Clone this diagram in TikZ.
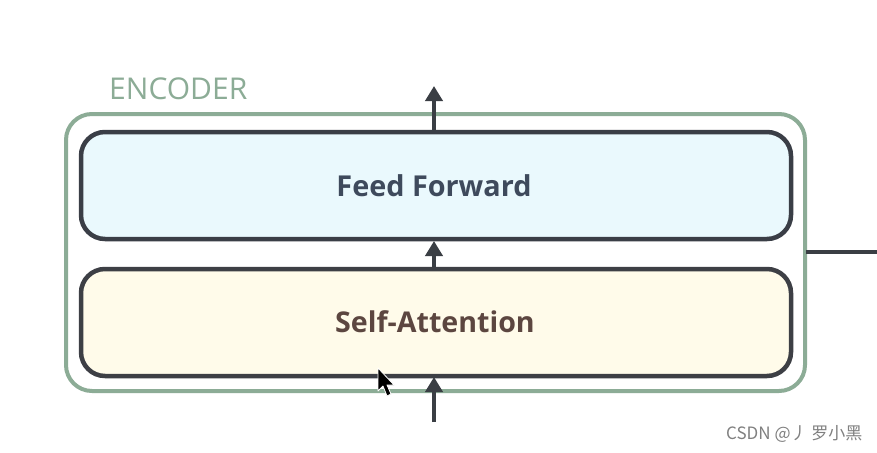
\documentclass[tikz,border=0pt]{standalone}
\usepackage{fontspec}
\setmainfont{Open Sans}
\newfontfamily\cjk{Noto Sans CJK SC}
\usetikzlibrary{arrows.meta}
\definecolor{encgreen}{RGB}{140,172,150}
\definecolor{boxline}{RGB}{58,62,70}
\definecolor{ffill}{RGB}{234,249,253}
\definecolor{safill}{RGB}{255,251,234}
\definecolor{fftext}{RGB}{62,74,92}
\definecolor{satext}{RGB}{92,70,64}
\definecolor{arrowc}{RGB}{58,62,68}
\tikzset{
  layerbox/.style={draw=boxline, line width=4.5pt, rounded corners=24pt},
  flowarrow/.style={draw=arrowc, line width=4pt, -{Triangle[length=15pt,width=17pt]}},
}
\begin{document}
\begin{tikzpicture}[x=1pt,y=-1pt]
\useasboundingbox[fill=white] (0,0) rectangle (877,452);
% encoder outer box
\draw[draw=encgreen, line width=4pt, rounded corners=26pt] (66,114) rectangle (805,391);
\node[anchor=west, text=encgreen, font=\fontsize{30}{32}\selectfont, inner sep=0pt] (enc) at (109,89) {ENCODER};
% layers
\draw[layerbox, fill=ffill] (81,132) rectangle (791,239);
\draw[layerbox, draw=boxline!90!satext, fill=safill] (81,269) rectangle (791,376);
\node[text=fftext, font=\fontsize{28.8}{30}\selectfont\bfseries] (ff) at (434,186) {Feed Forward};
\node[text=satext, font=\fontsize{28.6}{30}\selectfont\bfseries] (sa) at (435,322) {Self-Attention};
\coordinate (fftop) at (434,130);
\coordinate (ffbot) at (434,241);
\coordinate (satop) at (434,267);
\coordinate (out) at (434,86);
\coordinate (in) at (434,422);
\coordinate (sabot) at (434,377);
\coordinate (rs) at (806,252);
\coordinate (re) at (877,252);
\draw[flowarrow] (fftop) -- (out);
\draw[flowarrow] (satop) -- (ffbot);
\draw[flowarrow] (in) -- (sabot);
\draw[draw=arrowc, line width=4pt] (rs) -- (re);
% mouse cursor
\draw[fill=black, draw=white, line width=0.8pt, line join=round]
  (378,368) -- (378,391) -- (383,386) -- (387,396) -- (391,394) -- (387,385) -- (394,385) -- cycle;
% watermark
\node[anchor=west, text=black!50, font=\cjk\fontsize{17}{18}\selectfont, inner sep=0pt] (wm) at (726,434) {CSDN @丿 罗小黑};
\end{tikzpicture}
\end{document}
